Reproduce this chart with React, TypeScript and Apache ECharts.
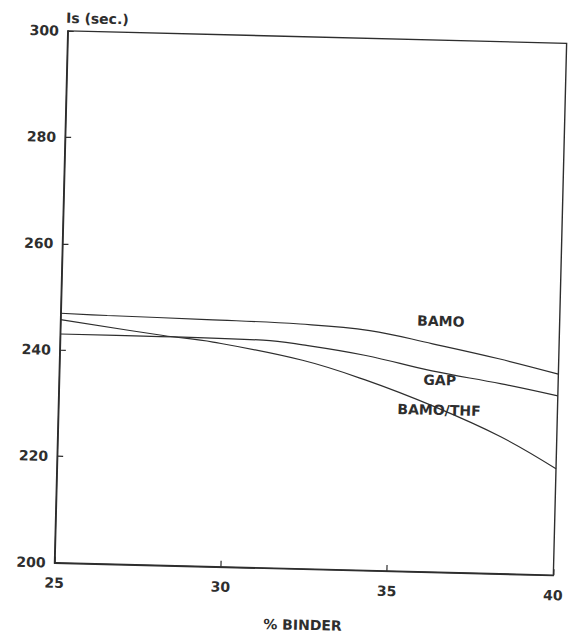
import React, { useEffect, useRef } from "react";
import * as echarts from "echarts";

// % binder (x) and specific impulse Is in seconds (y)
const bamoX = [25, 26.4, 29.4, 32.2, 34.3, 36.2, 38.2, 40];
const bamoY = [246.9, 246.7, 246.4, 246.0, 245.1, 242.9, 240.4, 237.8];
const gapX = [25, 27.5, 31.1, 32.3, 34.2, 36.2, 38.3, 40];
const gapY = [243.0, 243.0, 242.8, 242.1, 240.4, 237.8, 235.7, 233.7];
const thfX = [25, 28.1, 29.6, 32.3, 34.2, 36.3, 38.3, 40];
const thfY = [245.7, 243.2, 242.2, 239.2, 235.8, 231.1, 225.8, 220.0];
const seriesNames = ["BAMO", "GAP", "BAMO/THF"];
const labelX = [36.43, 36.44, 36.44];
const labelY = [247.2, 236.1, 230.5];

const FONT = "'DejaVu Sans', Verdana, sans-serif";
const INK = "#2e2e2e";

export default function App() {
  const ref = useRef<HTMLDivElement>(null);
  useEffect(() => {
    if (!ref.current) return;
    const chart = echarts.init(ref.current, undefined, { renderer: "svg" });
    const xs = [bamoX, gapX, thfX];
    const ys = [bamoY, gapY, thfY];
    const textStyle = { color: INK, fontFamily: FONT, fontWeight: "bold" as const, fontSize: 14 };
    chart.setOption({
      animation: false,
      backgroundColor: "#ffffff",
      grid: {
        left: 61,
        right: 19,
        top: 37,
        bottom: 63,
        show: true,
        borderColor: INK,
        borderWidth: 1.4,
      },
      xAxis: {
        type: "value",
        min: 25,
        max: 40,
        interval: 5,
        name: "% BINDER",
        nameLocation: "middle",
        nameGap: 49,
        nameTextStyle: textStyle,
        axisLine: { lineStyle: { color: INK, width: 1.4 } },
        axisTick: { inside: true, length: 6, lineStyle: { color: INK, width: 1.2 } },
        axisLabel: { ...textStyle, margin: 13 },
        splitLine: { show: false },
      },
      yAxis: {
        type: "value",
        min: 200,
        max: 300,
        interval: 20,
        name: "Is (sec.)",
        nameLocation: "end",
        nameGap: 6,
        nameTextStyle: { ...textStyle, align: "left", padding: [0, 0, 0, -2] },
        axisLine: { lineStyle: { color: INK, width: 1.4 } },
        axisTick: { inside: true, length: 6, lineStyle: { color: INK, width: 1.2 } },
        axisLabel: { ...textStyle, margin: 9 },
        splitLine: { show: false },
      },
      series: xs.map((xv, i) => ({
        type: "line",
        name: seriesNames[i],
        data: xv.map((x, j) => [x, ys[i][j]]),
        smooth: 0.4,
        showSymbol: false,
        symbol: "none",
        lineStyle: { color: INK, width: 1.2 },
        markPoint: {
          symbol: "circle",
          symbolSize: 0,
          data: [
            {
              coord: [labelX[i], labelY[i]],
              label: {
                show: true,
                formatter: seriesNames[i],
                ...textStyle,
                position: "inside",
              },
            },
          ],
        },
      })),
    });
    return () => chart.dispose();
  }, []);
  return (
    <div
      ref={ref}
      style={{
        position: "absolute",
        left: 0,
        top: 0,
        width: 579,
        height: 637,
        transform: "rotate(1.43deg)",
        transformOrigin: "310.5px 305.5px",
      }}
    />
  );
}
